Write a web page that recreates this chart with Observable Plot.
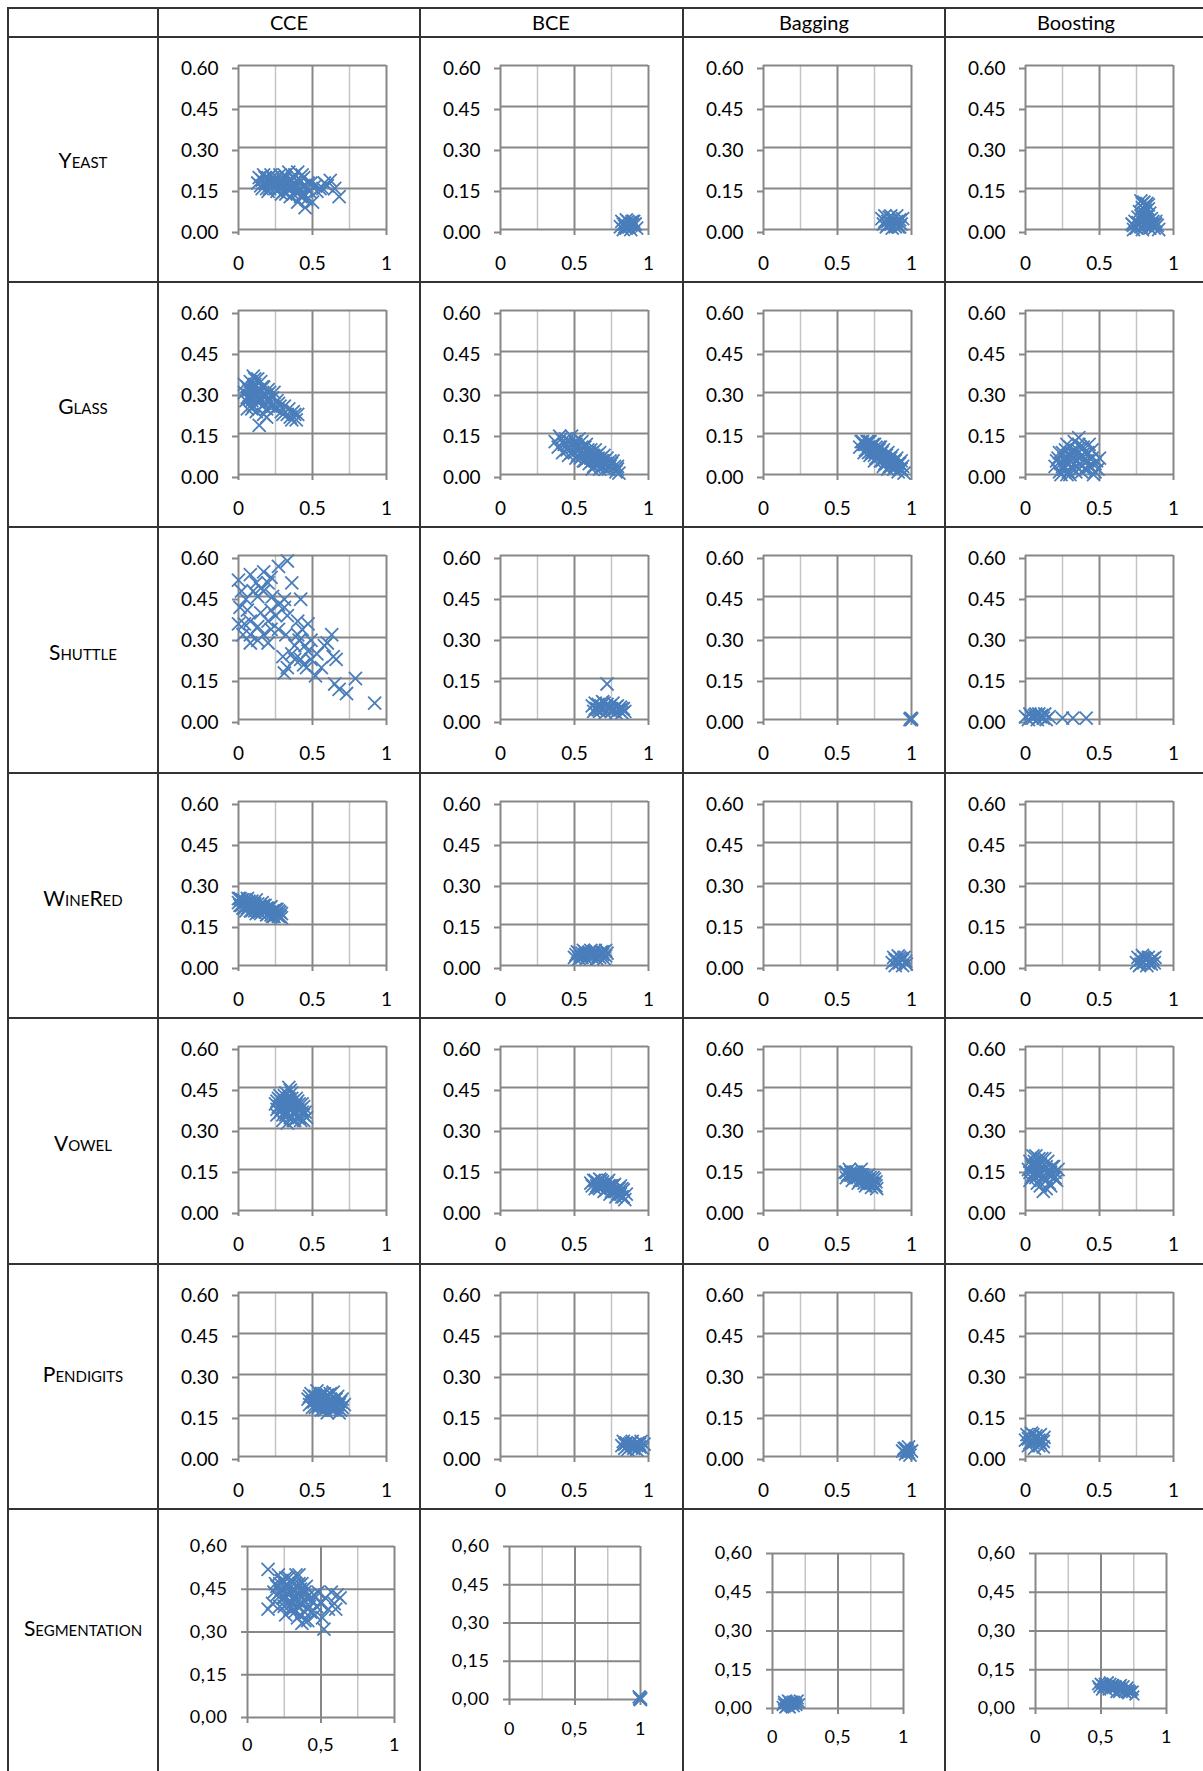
<!DOCTYPE html>
<html><head><meta charset="utf-8">
<script src="https://cdn.jsdelivr.net/npm/d3@7"></script>
<script src="https://cdn.jsdelivr.net/npm/@observablehq/plot@0.6"></script>
<style>
body{margin:0;background:#fff;}
#page{position:relative;width:1203px;height:1771px;overflow:hidden;background:#fff;font-family:Lato,sans-serif;color:#000;}
.hl{position:absolute;height:2px;background:#333;}
.vl{position:absolute;width:2px;background:#333;}
.hdr{position:absolute;font-size:20px;transform:translate(-50%,-50%);white-space:nowrap;}
.lbl{position:absolute;font-size:21px;font-variant:small-caps;transform:translate(-50%,-50%);white-space:nowrap;}
.cell{position:absolute;}
.cell svg{overflow:visible;max-width:none;}
</style></head><body><div id="page"></div><script>
// ---------- data ----------
const methods = ["CCE", "BCE", "Bagging", "Boosting"];
const datasets = ["Yeast", "Glass", "Shuttle", "WineRed", "Vowel", "Pendigits", "Segmentation"];
const xTicks = [0, 0.5, 1];
const yTicks = [0, 0.15, 0.30, 0.45, 0.60];
const xMinorGrid = [0.25, 0.75];
const xMajorGrid = [0.5, 1];
const yGrid = [0.15, 0.30, 0.45, 0.60];
const xTickLabels = ["0", "0.5", "1"];
const yTickLabels = ["0.00", "0.15", "0.30", "0.45", "0.60"];
const segXTickLabels = ["0", "0,5", "1"];
const segYTickLabels = ["0,00", "0,15", "0,30", "0,45", "0,60"];

const yeastCCE = [[0.13,0.17],[0.14,0.19],[0.15,0.16],[0.16,0.18],[0.17,0.20],[0.18,0.17],[0.19,0.15],[0.20,0.19],[0.21,0.17],[0.22,0.20],[0.23,0.16],[0.24,0.18],[0.25,0.15],[0.26,0.19],[0.27,0.17],[0.28,0.20],[0.29,0.16],[0.30,0.18],[0.31,0.14],[0.32,0.19],[0.33,0.17],[0.34,0.21],[0.35,0.15],[0.36,0.18],[0.37,0.13],[0.38,0.20],[0.39,0.16],[0.40,0.21],[0.41,0.14],[0.42,0.18],[0.43,0.12],[0.44,0.19],[0.45,0.16],[0.46,0.11],[0.47,0.17],[0.48,0.14],[0.45,0.08],[0.50,0.10],[0.52,0.16],[0.55,0.15],[0.58,0.17],[0.62,0.18],[0.65,0.15],[0.68,0.12],[0.35,0.12],[0.40,0.10],[0.29,0.13],[0.20,0.14],
  [0.16,0.15],[0.18,0.19],[0.21,0.15],[0.23,0.19],[0.25,0.17],[0.27,0.15],[0.28,0.18],[0.30,0.16],[0.31,0.20],[0.33,0.15],[0.34,0.18],[0.36,0.16],[0.37,0.19],[0.38,0.14],[0.39,0.18],[0.41,0.17],[0.42,0.15],[0.43,0.20],[0.44,0.13],[0.46,0.15],[0.38,0.17],[0.32,0.13],[0.26,0.14],[0.42,0.12],[0.49,0.17],[0.53,0.14],[0.57,0.15],[0.60,0.16]];
const yeastBCE = [[0.81,0.01],[0.82,0.03],[0.83,0.00],[0.84,0.02],[0.85,0.035],[0.86,0.01],[0.87,0.025],[0.88,0.00],[0.89,0.03],[0.90,0.015],[0.91,0.02],[0.92,0.005],[0.83,0.02],[0.86,0.03],[0.88,0.015],[0.85,0.005],[0.90,0.03],[0.87,0.01],[0.84,0.01],[0.89,0.02]];
const yeastBagging = [[0.80,0.04],[0.81,0.02],[0.82,0.05],[0.83,0.01],[0.84,0.03],[0.85,0.045],[0.86,0.02],[0.87,0.005],[0.88,0.04],[0.89,0.025],[0.90,0.05],[0.91,0.01],[0.92,0.035],[0.93,0.02],[0.94,0.04],[0.84,0.015],[0.87,0.035],[0.90,0.03],[0.86,0.05],[0.92,0.01],[0.82,0.03],[0.89,0.01]];
const yeastBoosting = [[0.78,0.105],[0.80,0.10],[0.82,0.095],[0.79,0.08],[0.81,0.085],[0.83,0.075],[0.77,0.065],[0.80,0.06],[0.84,0.06],[0.76,0.045],[0.79,0.04],[0.82,0.045],[0.85,0.04],[0.72,0.02],[0.74,0.03],[0.75,0.005],[0.77,0.02],[0.79,0.00],[0.81,0.025],[0.83,0.01],[0.85,0.02],[0.87,0.005],[0.89,0.015],[0.90,0.00],[0.78,0.01],[0.86,0.03],[0.73,0.00],[0.88,0.03],
  [0.73,0.015],[0.76,0.025],[0.80,0.015],[0.82,0.03],[0.84,0.005],[0.86,0.015],[0.88,0.02],[0.78,0.05],[0.81,0.07],[0.79,0.095],[0.83,0.09]];

const glassCCE = [[0.04,0.30],[0.05,0.27],[0.06,0.32],[0.07,0.29],[0.08,0.34],[0.09,0.31],[0.10,0.28],[0.11,0.33],[0.12,0.30],[0.13,0.35],[0.14,0.27],[0.15,0.31],[0.16,0.29],[0.17,0.32],[0.18,0.26],[0.19,0.29],[0.20,0.31],[0.21,0.27],[0.22,0.25],[0.23,0.28],[0.24,0.30],[0.25,0.24],[0.27,0.26],[0.29,0.23],[0.31,0.25],[0.33,0.22],[0.35,0.21],[0.37,0.23],[0.39,0.20],[0.40,0.22],[0.14,0.18],[0.10,0.25],[0.06,0.24],[0.12,0.23],[0.17,0.22],[0.08,0.28],[0.15,0.34],[0.13,0.29],[0.19,0.24],[0.11,0.30],
  [0.07,0.31],[0.09,0.27],[0.10,0.32],[0.12,0.27],[0.13,0.31],[0.14,0.30],[0.15,0.27],[0.16,0.32],[0.18,0.29],[0.20,0.27],[0.21,0.30],[0.23,0.25],[0.06,0.28],[0.11,0.35],[0.09,0.24],[0.16,0.25],[0.26,0.27],[0.28,0.25],[0.30,0.22],[0.34,0.24],[0.38,0.22],[0.36,0.20],[0.19,0.21],[0.04,0.33],[0.10,0.36]];
const glassBCE = [[0.37,0.12],[0.39,0.10],[0.41,0.13],[0.43,0.11],[0.45,0.09],[0.47,0.12],[0.48,0.14],[0.49,0.10],[0.50,0.08],[0.51,0.11],[0.52,0.07],[0.53,0.09],[0.54,0.06],[0.55,0.10],[0.56,0.08],[0.57,0.05],[0.58,0.07],[0.59,0.09],[0.60,0.04],[0.61,0.06],[0.62,0.08],[0.63,0.03],[0.64,0.05],[0.65,0.07],[0.66,0.04],[0.67,0.02],[0.68,0.06],[0.69,0.03],[0.70,0.05],[0.71,0.02],[0.72,0.04],[0.74,0.03],[0.76,0.05],[0.78,0.01],[0.79,0.03],[0.80,0.005],[0.46,0.07],[0.42,0.08],[0.55,0.12],[0.62,0.02],
  [0.40,0.14],[0.44,0.13],[0.46,0.10],[0.48,0.08],[0.50,0.12],[0.52,0.10],[0.53,0.13],[0.55,0.07],[0.57,0.10],[0.58,0.11],[0.60,0.08],[0.61,0.09],[0.62,0.05],[0.63,0.07],[0.64,0.09],[0.65,0.04],[0.66,0.06],[0.67,0.08],[0.68,0.03],[0.69,0.05],[0.70,0.07],[0.71,0.04],[0.72,0.06],[0.73,0.02],[0.74,0.05],[0.75,0.04],[0.77,0.03],[0.79,0.02],[0.56,0.05],[0.59,0.06],[0.51,0.06],[0.45,0.11]];
const glassBagging = [[0.65,0.10],[0.67,0.12],[0.68,0.08],[0.69,0.11],[0.70,0.09],[0.71,0.12],[0.72,0.07],[0.73,0.10],[0.74,0.08],[0.75,0.11],[0.76,0.06],[0.77,0.09],[0.78,0.07],[0.79,0.05],[0.80,0.08],[0.81,0.06],[0.82,0.04],[0.83,0.07],[0.84,0.05],[0.85,0.03],[0.86,0.06],[0.87,0.04],[0.88,0.02],[0.89,0.05],[0.90,0.03],[0.91,0.01],[0.92,0.04],[0.93,0.02],[0.95,0.005],[0.72,0.10],[0.78,0.10],[0.84,0.02],
  [0.66,0.12],[0.68,0.11],[0.70,0.12],[0.71,0.08],[0.72,0.12],[0.73,0.08],[0.74,0.11],[0.75,0.07],[0.76,0.10],[0.77,0.06],[0.78,0.09],[0.79,0.10],[0.80,0.05],[0.81,0.09],[0.82,0.07],[0.83,0.04],[0.84,0.08],[0.85,0.06],[0.86,0.03],[0.87,0.07],[0.88,0.05],[0.89,0.03],[0.90,0.06],[0.91,0.04],[0.92,0.02],[0.93,0.05],[0.94,0.03],[0.69,0.09],[0.75,0.05],[0.81,0.03]];
const glassBoosting = [[0.20,0.03],[0.22,0.06],[0.23,0.01],[0.24,0.04],[0.25,0.08],[0.26,0.02],[0.27,0.05],[0.28,0.00],[0.29,0.07],[0.30,0.10],[0.31,0.03],[0.32,0.06],[0.33,0.12],[0.34,0.01],[0.35,0.09],[0.36,0.135],[0.37,0.04],[0.38,0.07],[0.39,0.10],[0.40,0.02],[0.41,0.05],[0.42,0.08],[0.44,0.03],[0.45,0.06],[0.46,0.00],[0.47,0.04],[0.49,0.02],[0.50,0.06],[0.30,0.00],[0.35,0.05],[0.27,0.09],[0.43,0.11],
  [0.21,0.05],[0.23,0.08],[0.25,0.03],[0.26,0.06],[0.28,0.04],[0.29,0.01],[0.30,0.05],[0.31,0.08],[0.32,0.02],[0.33,0.04],[0.34,0.07],[0.36,0.02],[0.37,0.10],[0.38,0.01],[0.39,0.05],[0.40,0.08],[0.41,0.02],[0.42,0.05],[0.43,0.03],[0.45,0.09],[0.48,0.05],[0.33,0.09],[0.36,0.11],[0.28,0.11],[0.24,0.00],[0.47,0.01]];

const shuttleCCE = [[0.00,0.51],[0.02,0.47],[0.05,0.44],[0.01,0.41],[0.06,0.40],[0.00,0.35],[0.04,0.35],[0.03,0.31],[0.08,0.53],[0.10,0.47],[0.12,0.50],[0.13,0.45],[0.15,0.48],[0.17,0.54],[0.17,0.47],[0.20,0.50],[0.22,0.52],[0.27,0.56],[0.33,0.58],[0.36,0.50],[0.23,0.45],[0.31,0.44],[0.42,0.44],[0.27,0.42],[0.31,0.41],[0.22,0.40],[0.15,0.39],[0.08,0.36],[0.20,0.36],[0.25,0.38],[0.33,0.38],[0.13,0.34],[0.08,0.31],[0.17,0.31],[0.22,0.33],[0.27,0.33],[0.32,0.31],[0.08,0.28],[0.13,0.29],[0.20,0.28],[0.40,0.36],[0.43,0.33],[0.47,0.35],[0.41,0.29],[0.38,0.27],[0.45,0.27],[0.49,0.29],[0.30,0.23],[0.36,0.24],[0.38,0.22],[0.42,0.22],[0.49,0.22],[0.33,0.19],[0.31,0.17],[0.46,0.19],[0.53,0.24],[0.56,0.19],[0.52,0.16],[0.58,0.27],[0.60,0.28],[0.63,0.31],[0.64,0.23],[0.66,0.22],[0.65,0.13],[0.68,0.11],[0.73,0.095],[0.79,0.15],[0.92,0.06],[0.44,0.20],[0.40,0.31],[0.47,0.25]];
const shuttleBCE = [[0.62,0.05],[0.63,0.03],[0.64,0.06],[0.65,0.04],[0.66,0.055],[0.67,0.03],[0.68,0.05],[0.69,0.065],[0.70,0.04],[0.71,0.025],[0.72,0.055],[0.73,0.035],[0.74,0.05],[0.75,0.03],[0.76,0.06],[0.77,0.04],[0.78,0.025],[0.79,0.05],[0.80,0.035],[0.81,0.045],[0.82,0.025],[0.83,0.04],[0.84,0.03],[0.72,0.13],[0.66,0.035],[0.70,0.06],[0.64,0.04],[0.68,0.035],[0.74,0.04],[0.78,0.045],[0.82,0.04]];
const shuttleBagging = [[1.0,0.0],[0.995,0.004],[1.0,0.003],[0.99,0.0]];
const shuttleBoosting = [[0.00,0.01],[0.02,0.00],[0.03,0.02],[0.05,0.005],[0.06,0.015],[0.08,0.00],[0.09,0.02],[0.10,0.01],[0.11,0.015],[0.12,0.005],[0.13,0.02],[0.14,0.00],[0.16,0.01],[0.04,0.01],[0.07,0.02],[0.25,0.005],[0.32,0.005],[0.41,0.005]];

const wineRedCCE = [[0.00,0.23],[0.01,0.245],[0.02,0.22],[0.03,0.24],[0.04,0.21],[0.05,0.23],[0.06,0.245],[0.07,0.22],[0.08,0.20],[0.09,0.235],[0.10,0.21],[0.11,0.225],[0.12,0.24],[0.13,0.20],[0.14,0.215],[0.15,0.19],[0.16,0.23],[0.17,0.205],[0.18,0.22],[0.19,0.185],[0.20,0.21],[0.21,0.195],[0.22,0.215],[0.23,0.18],[0.24,0.20],[0.25,0.19],[0.26,0.205],[0.27,0.18],[0.28,0.195],[0.29,0.175],[0.12,0.19],[0.05,0.20],
  [0.01,0.22],[0.02,0.24],[0.03,0.21],[0.04,0.235],[0.06,0.21],[0.07,0.235],[0.08,0.22],[0.09,0.20],[0.10,0.225],[0.11,0.20],[0.13,0.225],[0.14,0.195],[0.15,0.215],[0.16,0.20],[0.17,0.22],[0.18,0.195],[0.19,0.21],[0.20,0.19],[0.21,0.21],[0.22,0.185],[0.23,0.20],[0.24,0.18],[0.25,0.205],[0.26,0.185],[0.27,0.20],[0.28,0.18],[0.29,0.19],[0.00,0.245]];
const wineRedBCE = [[0.50,0.03],[0.52,0.05],[0.54,0.035],[0.56,0.055],[0.58,0.025],[0.60,0.045],[0.62,0.03],[0.64,0.055],[0.66,0.035],[0.68,0.05],[0.70,0.025],[0.72,0.045],[0.53,0.025],[0.57,0.04],[0.61,0.055],[0.65,0.025],[0.69,0.04],[0.55,0.045],[0.63,0.04],[0.71,0.055],
  [0.51,0.04],[0.53,0.045],[0.55,0.03],[0.57,0.05],[0.59,0.04],[0.61,0.035],[0.63,0.05],[0.65,0.045],[0.67,0.03],[0.69,0.05],[0.71,0.035]];
const wineRedBagging = [[0.87,0.01],[0.88,0.03],[0.89,0.00],[0.90,0.02],[0.91,0.035],[0.92,0.01],[0.93,0.025],[0.94,0.00],[0.95,0.03],[0.96,0.015],[0.965,0.005],[0.89,0.02],[0.92,0.03],[0.94,0.02]];
const wineRedBoosting = [[0.75,0.01],[0.76,0.03],[0.77,0.00],[0.78,0.02],[0.79,0.037],[0.80,0.01],[0.81,0.025],[0.82,0.00],[0.83,0.03],[0.84,0.015],[0.85,0.005],[0.86,0.025],[0.87,0.01],[0.875,0.03],[0.80,0.03],[0.78,0.005],[0.83,0.01]];

const vowelCCE = [[0.25,0.39],[0.26,0.37],[0.27,0.41],[0.28,0.36],[0.29,0.40],[0.30,0.38],[0.31,0.42],[0.32,0.35],[0.33,0.39],[0.34,0.45],[0.35,0.37],[0.36,0.41],[0.37,0.33],[0.38,0.38],[0.39,0.36],[0.40,0.40],[0.41,0.34],[0.42,0.37],[0.43,0.39],[0.44,0.35],[0.45,0.36],[0.46,0.34],[0.33,0.32],[0.30,0.35],[0.36,0.43],[0.31,0.40],[0.35,0.34],[0.39,0.39],[0.28,0.38],[0.34,0.38],[0.37,0.36],[0.42,0.33],
  [0.26,0.40],[0.27,0.38],[0.28,0.42],[0.29,0.37],[0.30,0.41],[0.31,0.36],[0.32,0.40],[0.33,0.36],[0.34,0.41],[0.35,0.39],[0.36,0.37],[0.37,0.40],[0.38,0.35],[0.39,0.41],[0.40,0.37],[0.41,0.39],[0.43,0.36],[0.44,0.38],[0.32,0.43],[0.35,0.44],[0.38,0.33],[0.40,0.34],[0.44,0.33],[0.30,0.33],[0.26,0.35]];
const vowelBCE = [[0.61,0.10],[0.63,0.11],[0.64,0.08],[0.66,0.10],[0.67,0.115],[0.68,0.09],[0.70,0.07],[0.71,0.10],[0.72,0.08],[0.73,0.11],[0.74,0.06],[0.75,0.09],[0.76,0.07],[0.77,0.095],[0.78,0.05],[0.79,0.08],[0.80,0.065],[0.81,0.09],[0.82,0.05],[0.83,0.075],[0.84,0.04],[0.85,0.06],[0.69,0.105],[0.73,0.09],[0.78,0.07],
  [0.62,0.09],[0.64,0.11],[0.65,0.09],[0.67,0.08],[0.68,0.11],[0.70,0.09],[0.72,0.10],[0.74,0.09],[0.75,0.07],[0.76,0.09],[0.77,0.07],[0.79,0.06],[0.80,0.08],[0.81,0.06],[0.82,0.08],[0.83,0.05],[0.71,0.075],[0.66,0.085]];
const vowelBagging = [[0.55,0.14],[0.56,0.12],[0.58,0.15],[0.59,0.13],[0.60,0.11],[0.62,0.14],[0.63,0.12],[0.64,0.10],[0.65,0.13],[0.66,0.15],[0.67,0.11],[0.68,0.125],[0.69,0.09],[0.70,0.115],[0.71,0.13],[0.72,0.10],[0.73,0.085],[0.74,0.12],[0.75,0.095],[0.76,0.105],[0.765,0.08],[0.61,0.125],[0.70,0.10],
  [0.56,0.14],[0.57,0.13],[0.59,0.14],[0.61,0.14],[0.62,0.12],[0.63,0.14],[0.64,0.13],[0.65,0.11],[0.66,0.13],[0.67,0.13],[0.68,0.10],[0.69,0.12],[0.71,0.11],[0.72,0.12],[0.73,0.10],[0.74,0.10],[0.75,0.115],[0.76,0.09],[0.60,0.13]];
const vowelBoosting = [[0.02,0.15],[0.03,0.18],[0.04,0.12],[0.05,0.20],[0.06,0.14],[0.07,0.17],[0.08,0.10],[0.09,0.19],[0.10,0.13],[0.11,0.16],[0.12,0.07],[0.13,0.15],[0.14,0.11],[0.15,0.18],[0.16,0.13],[0.17,0.09],[0.18,0.16],[0.19,0.12],[0.20,0.14],[0.21,0.11],[0.22,0.15],[0.05,0.16],[0.10,0.09],[0.13,0.19],[0.08,0.13],[0.16,0.15],
  [0.03,0.14],[0.04,0.17],[0.05,0.13],[0.06,0.18],[0.07,0.12],[0.08,0.16],[0.09,0.14],[0.10,0.17],[0.11,0.12],[0.12,0.15],[0.13,0.12],[0.14,0.16],[0.15,0.14],[0.16,0.10],[0.17,0.14],[0.18,0.13],[0.19,0.16],[0.20,0.12],[0.07,0.20],[0.11,0.19],[0.14,0.08],[0.03,0.11]];

const pendigitsCCE = [[0.47,0.21],[0.48,0.19],[0.49,0.23],[0.50,0.20],[0.51,0.22],[0.52,0.18],[0.53,0.24],[0.54,0.20],[0.55,0.22],[0.56,0.17],[0.57,0.21],[0.58,0.23],[0.59,0.19],[0.60,0.16],[0.61,0.22],[0.62,0.18],[0.63,0.20],[0.64,0.235],[0.65,0.17],[0.66,0.21],[0.67,0.19],[0.68,0.16],[0.69,0.20],[0.70,0.18],[0.715,0.19],[0.58,0.17],[0.55,0.19],[0.62,0.21],
  [0.48,0.22],[0.50,0.18],[0.51,0.20],[0.52,0.22],[0.54,0.18],[0.55,0.21],[0.56,0.23],[0.57,0.19],[0.59,0.21],[0.60,0.20],[0.61,0.18],[0.62,0.23],[0.63,0.17],[0.64,0.19],[0.65,0.21],[0.66,0.18],[0.67,0.22],[0.68,0.19],[0.69,0.17],[0.70,0.21],[0.53,0.21],[0.60,0.225]];
const pendigitsBCE = [[0.82,0.04],[0.83,0.055],[0.84,0.03],[0.85,0.05],[0.86,0.025],[0.87,0.045],[0.88,0.035],[0.89,0.055],[0.90,0.03],[0.91,0.045],[0.92,0.025],[0.93,0.05],[0.94,0.035],[0.95,0.055],[0.96,0.03],[0.97,0.045],[0.86,0.04],[0.92,0.04],[0.84,0.045],[0.88,0.05],[0.90,0.04],[0.94,0.045]];
const pendigitsBagging = [[0.94,0.02],[0.95,0.03],[0.96,0.01],[0.97,0.025],[0.98,0.035],[0.99,0.005],[1.00,0.02],[0.96,0.03],[0.98,0.015],[0.97,0.02]];
const pendigitsBoosting = [[0.00,0.06],[0.01,0.08],[0.02,0.04],[0.03,0.07],[0.04,0.085],[0.05,0.05],[0.06,0.03],[0.07,0.075],[0.08,0.055],[0.09,0.04],[0.10,0.08],[0.11,0.06],[0.12,0.035],[0.125,0.07],[0.03,0.05],[0.08,0.07],[0.05,0.08],[0.10,0.05],[0.02,0.065],[0.06,0.065],[0.09,0.06],[0.12,0.055]];

const segmentationCCE = [[0.14,0.52],[0.14,0.38],[0.17,0.40],[0.19,0.47],[0.20,0.43],[0.21,0.50],[0.22,0.39],[0.23,0.45],[0.24,0.48],[0.25,0.42],[0.26,0.36],[0.27,0.46],[0.28,0.49],[0.29,0.41],[0.30,0.44],[0.31,0.38],[0.32,0.47],[0.33,0.50],[0.34,0.35],[0.35,0.43],[0.36,0.40],[0.37,0.33],[0.38,0.45],[0.39,0.37],[0.40,0.42],[0.41,0.34],[0.42,0.39],[0.44,0.41],[0.46,0.36],[0.48,0.44],[0.50,0.40],[0.52,0.31],[0.51,0.35],[0.53,0.42],[0.55,0.38],[0.57,0.44],[0.59,0.40],[0.61,0.43],[0.63,0.42],[0.60,0.38],[0.28,0.43],[0.33,0.41],[0.26,0.44],[0.35,0.47],
  [0.20,0.46],[0.22,0.44],[0.23,0.48],[0.24,0.42],[0.25,0.46],[0.26,0.49],[0.27,0.40],[0.28,0.46],[0.29,0.44],[0.30,0.48],[0.30,0.40],[0.31,0.45],[0.32,0.42],[0.33,0.46],[0.34,0.44],[0.34,0.39],[0.35,0.50],[0.36,0.45],[0.37,0.42],[0.37,0.47],[0.38,0.40],[0.39,0.44],[0.40,0.46],[0.41,0.38],[0.42,0.43],[0.43,0.37],[0.32,0.37],[0.29,0.38],[0.25,0.39],[0.36,0.36],[0.39,0.34],[0.45,0.43],[0.47,0.39],[0.22,0.47],[0.18,0.44]];
const segmentationBCE = [[1.0,0.005],[0.99,0.01],[1.0,0.0],[0.995,0.003]];
const segmentationBagging = [[0.07,0.01],[0.08,0.03],[0.09,0.00],[0.10,0.02],[0.11,0.035],[0.12,0.01],[0.13,0.025],[0.14,0.00],[0.15,0.03],[0.16,0.015],[0.17,0.005],[0.18,0.025],[0.19,0.01],[0.20,0.035],[0.21,0.02],[0.10,0.005],[0.14,0.02],[0.17,0.03],
  [0.08,0.02],[0.11,0.015],[0.13,0.005],[0.15,0.02],[0.16,0.03],[0.19,0.02],[0.12,0.03]];
const segmentationBoosting = [[0.47,0.09],[0.49,0.10],[0.51,0.08],[0.53,0.095],[0.55,0.07],[0.57,0.09],[0.58,0.10],[0.60,0.075],[0.62,0.09],[0.63,0.06],[0.65,0.08],[0.67,0.065],[0.68,0.09],[0.70,0.055],[0.72,0.075],[0.73,0.06],[0.75,0.07],[0.755,0.05],[0.50,0.07],[0.56,0.105],[0.61,0.06],[0.66,0.095],[0.71,0.085],
  [0.48,0.08],[0.50,0.095],[0.52,0.09],[0.54,0.08],[0.56,0.085],[0.58,0.075],[0.59,0.09],[0.61,0.085],[0.63,0.08],[0.64,0.07],[0.66,0.075],[0.68,0.07],[0.69,0.06],[0.71,0.065],[0.73,0.07],[0.74,0.065],[0.52,0.10],[0.60,0.095],[0.65,0.09],[0.70,0.075]];

const points = {
  Yeast: [yeastCCE, yeastBCE, yeastBagging, yeastBoosting],
  Glass: [glassCCE, glassBCE, glassBagging, glassBoosting],
  Shuttle: [shuttleCCE, shuttleBCE, shuttleBagging, shuttleBoosting],
  WineRed: [wineRedCCE, wineRedBCE, wineRedBagging, wineRedBoosting],
  Vowel: [vowelCCE, vowelBCE, vowelBagging, vowelBoosting],
  Pendigits: [pendigitsCCE, pendigitsBCE, pendigitsBagging, pendigitsBoosting],
  Segmentation: [segmentationCCE, segmentationBCE, segmentationBagging, segmentationBoosting]
};

// ---------- layout ----------
const page = document.getElementById("page");
const hLineY = [7, 36, 281, 526, 772, 1017, 1263, 1508];
const vLineX = [7, 157, 419, 682, 944];
const colLeft = [158, 420, 683, 945];
const rowTop = [37, 282, 527, 773, 1018, 1264];
const headerX = [289, 551, 814, 1076];
const headerY = 22;
const labelX = 83;
const labelY = [159, 405, 651, 897, 1142, 1373, 1627];
const segFrames = [
  {left: 247, top: 1546, w: 147, h: 171, xPad: 15},
  {left: 509, top: 1546, w: 131, h: 153, xPad: 17},
  {left: 772, top: 1553, w: 131, h: 155, xPad: 16},
  {left: 1035, top: 1553, w: 131, h: 155, xPad: 16}
];
const segR = [6, 6, 4.5, 4.5];

for (const y of hLineY) {
  const d = document.createElement("div");
  d.className = "hl"; d.style.left = "7px"; d.style.width = "1196px"; d.style.top = y + "px";
  page.appendChild(d);
}
for (const x of vLineX) {
  const d = document.createElement("div");
  d.className = "vl"; d.style.left = x + "px"; d.style.top = "7px"; d.style.height = "1764px";
  page.appendChild(d);
}
methods.forEach((m, i) => {
  const d = document.createElement("div");
  d.className = "hdr"; d.textContent = m;
  d.style.left = headerX[i] + "px"; d.style.top = headerY + "px";
  page.appendChild(d);
});
datasets.forEach((n, i) => {
  const d = document.createElement("div");
  d.className = "lbl"; d.textContent = n;
  d.style.left = labelX + "px"; d.style.top = labelY[i] + "px";
  page.appendChild(d);
});

const GRID = "#878787", MINOR = "#c4c4c4", BLUE = "#4a7ebb";

function drawChart(pts, f, seg, r) {
  const mL = 80, mT = 30, mR = 40, mB = 60;
  const W = mL + f.w + mR, H = mT + f.h + mB;
  const xl = seg ? segXTickLabels : xTickLabels;
  const yl = seg ? segYTickLabels : yTickLabels;
  const svg = Plot.plot({
    width: W, height: H,
    marginLeft: mL, marginTop: mT, marginRight: mR, marginBottom: mB,
    style: {fontFamily: "Lato, sans-serif", fontSize: seg ? "18px" : "19px", color: "#000", background: "transparent", overflow: "visible"},
    x: {domain: [0, 1]},
    y: {domain: [0, 0.6]},
    marks: [
      Plot.ruleX(xMinorGrid, {stroke: MINOR, strokeWidth: 1.5}),
      Plot.ruleX(xMajorGrid, {stroke: GRID, strokeWidth: 2}),
      Plot.ruleY(yGrid, {stroke: GRID, strokeWidth: 2}),
      Plot.ruleX([0], {stroke: GRID, strokeWidth: 2}),
      Plot.ruleY([0], {stroke: GRID, strokeWidth: 2}),
      Plot.axisX({ticks: xTicks, tickSize: 6, tickPadding: seg ? f.xPad : 21, stroke: GRID, strokeWidth: 2, fill: "#000",
        tickFormat: d => xl[xTicks.indexOf(d)], label: null}),
      Plot.axisY({ticks: yTicks, tickSize: 6, tickPadding: 14, stroke: GRID, strokeWidth: 2, fill: "#000", dy: seg ? 0 : 3,
        tickFormat: d => yl[yTicks.indexOf(d)], label: null}),
      Plot.dot(pts, {x: d => d[0], y: d => d[1], symbol: "times", r: r, stroke: BLUE, strokeWidth: 1.8})
    ]
  });
  if (seg) svg.style.letterSpacing = "0.6px";
  const div = document.createElement("div");
  div.className = "cell";
  div.style.left = (f.left - mL) + "px";
  div.style.top = (f.top - mT) + "px";
  div.style.width = W + "px";
  div.style.height = H + "px";
  div.appendChild(svg);
  page.appendChild(div);
}

datasets.forEach((name, ri) => {
  methods.forEach((m, ci) => {
    const pts = points[name][ci];
    if (name === "Segmentation") {
      drawChart(pts, segFrames[ci], true, segR[ci]);
    } else {
      drawChart(pts, {left: colLeft[ci] + 80, top: rowTop[ri] + 28, w: 148, h: 164}, false, 6);
    }
  });
});
</script></body></html>
